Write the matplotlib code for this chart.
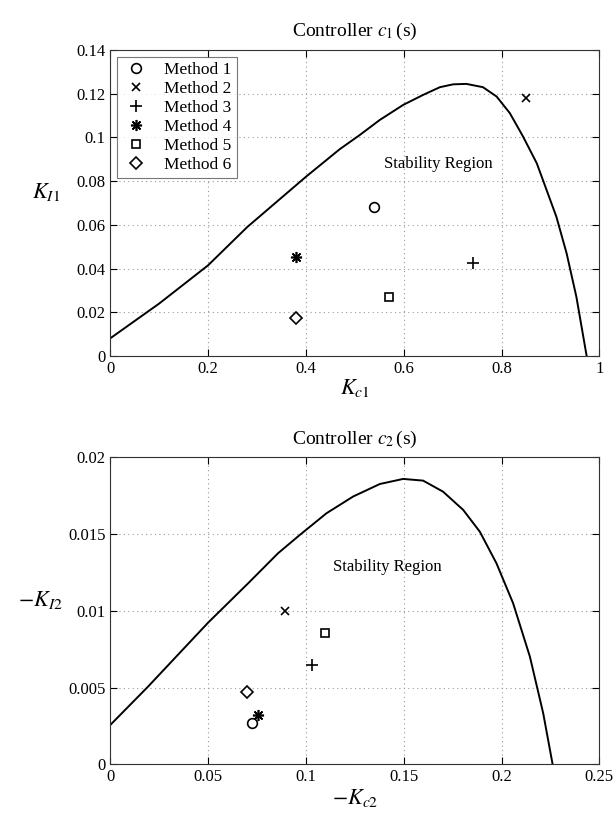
import matplotlib
matplotlib.use("Agg")
import matplotlib.pyplot as plt
from matplotlib.ticker import FuncFormatter

plt.rcParams["font.family"] = ["Liberation Serif", "DejaVu Serif"]
plt.rcParams["mathtext.fontset"] = "stix"

# ── Data ────────────────────────────────────────────────────────────────────
methods = ["Method 1", "Method 2", "Method 3", "Method 4", "Method 5", "Method 6"]
markers = ["o", "x", "+", (8, 2, 0), "s", "D"]
msizes = [7, 6, 8, 8, 6, 6]

# controller c1(s): stability boundary
kc1_curve = [0, 0.1, 0.2, 0.28, 0.4, 0.469, 0.510, 0.551, 0.599, 0.640,
             0.674, 0.701, 0.728, 0.762, 0.790, 0.817, 0.844, 0.872, 0.892,
             0.912, 0.933, 0.953, 0.974]
ki1_curve = [0.0081, 0.024, 0.0415, 0.059, 0.082, 0.0946, 0.1011, 0.108,
             0.1149, 0.1195, 0.1230, 0.1243, 0.1245, 0.1230, 0.1187, 0.1111,
             0.1004, 0.0882, 0.0760, 0.0638, 0.0470, 0.0271, 0.0]
kc1_pts = [0.539, 0.849, 0.741, 0.379, 0.570, 0.379]
ki1_pts = [0.0683, 0.118, 0.0427, 0.0455, 0.0272, 0.0175]

# controller c2(s): stability boundary (negated gains)
kc2_curve = [0, 0.0193, 0.05, 0.0705, 0.0858, 0.0969, 0.1105, 0.1241,
             0.1378, 0.1497, 0.1599, 0.1701, 0.1804, 0.1889, 0.1974, 0.2059,
             0.2145, 0.2213, 0.2261]
ki2_curve = [0.00256, 0.00506, 0.00923, 0.0118, 0.01376, 0.01495, 0.01636,
             0.01745, 0.01827, 0.0186, 0.01849, 0.01777, 0.01658, 0.01516,
             0.0131, 0.0105, 0.00701, 0.00332, 0.0]
kc2_pts = [0.0722, 0.0892, 0.1032, 0.0753, 0.1097, 0.0701]
ki2_pts = [0.00271, 0.0100, 0.00647, 0.00321, 0.00854, 0.00473]

fig = plt.figure(figsize=(6.16, 8.16), dpi=100)
ax1 = fig.add_axes([0.179, 0.5637, 0.794, 0.375])
ax2 = fig.add_axes([0.179, 0.0634, 0.794, 0.376])

fmt = FuncFormatter(lambda v, p: f"{v:g}")


def style(ax):
    ax.grid(True, linestyle=(0, (1, 3)), color="#999999", linewidth=0.8)
    ax.tick_params(direction="in", top=True, right=True, labelsize=12,
                   length=5, width=0.8)
    for s in ax.spines.values():
        s.set_linewidth(0.8)
        s.set_color("#333333")
    ax.xaxis.set_major_formatter(fmt)
    ax.yaxis.set_major_formatter(fmt)


def draw_points(ax, xs, ys):
    for x, y, m, ms, lab in zip(xs, ys, markers, msizes, methods):
        hollow = m in ("o", "s", "D")
        ax.plot(x, y, linestyle="none", marker=m, markersize=ms,
                markerfacecolor="none" if hollow else "k",
                markeredgecolor="k", markeredgewidth=1.2, label=lab)


# ── Top panel ────────────────────────────────────────────────────────────────
ax1.plot(kc1_curve, ki1_curve, color="k", lw=1.4)
draw_points(ax1, kc1_pts, ki1_pts)
ax1.set_xlim(0, 1)
ax1.set_ylim(0, 0.14)
ax1.set_xticks([0, 0.2, 0.4, 0.6, 0.8, 1])
ax1.set_yticks([0, 0.02, 0.04, 0.06, 0.08, 0.1, 0.12, 0.14])
style(ax1)
ax1.set_title(r"Controller $c_{\mathit{1}}\,$(s)", fontsize=14, pad=10)
ax1.set_xlabel(r"$K_{c\mathit{1}}$", fontsize=16, labelpad=0)
ax1.set_ylabel(r"$K_{I\mathit{1}}$", fontsize=16, rotation=0, labelpad=22)
ax1.text(0.67, 0.088, "Stability Region", fontsize=12, ha="center", va="center")
leg = ax1.legend(loc="upper left", fontsize=12.5, frameon=True, fancybox=False,
                 edgecolor="#555555", handlelength=1.6, handletextpad=0.8,
                 borderaxespad=0.4, labelspacing=0.16, borderpad=0.3)
leg.get_frame().set_linewidth(0.8)

# ── Bottom panel ─────────────────────────────────────────────────────────────
ax2.plot(kc2_curve, ki2_curve, color="k", lw=1.4)
draw_points(ax2, kc2_pts, ki2_pts)
ax2.set_xlim(0, 0.25)
ax2.set_ylim(0, 0.02)
ax2.set_xticks([0, 0.05, 0.1, 0.15, 0.2, 0.25])
ax2.set_yticks([0, 0.005, 0.01, 0.015, 0.02])
style(ax2)
ax2.set_title(r"Controller $c_2\,$(s)", fontsize=14, pad=10)
ax2.set_xlabel(r"$-K_{c2}$", fontsize=16, labelpad=1)
ax2.set_ylabel(r"$-K_{I2}$", fontsize=16, rotation=0, labelpad=20)
ax2.text(0.1416, 0.01288, "Stability Region", fontsize=12, ha="center", va="center")

fig.savefig("out.png", dpi=100, facecolor="white")
